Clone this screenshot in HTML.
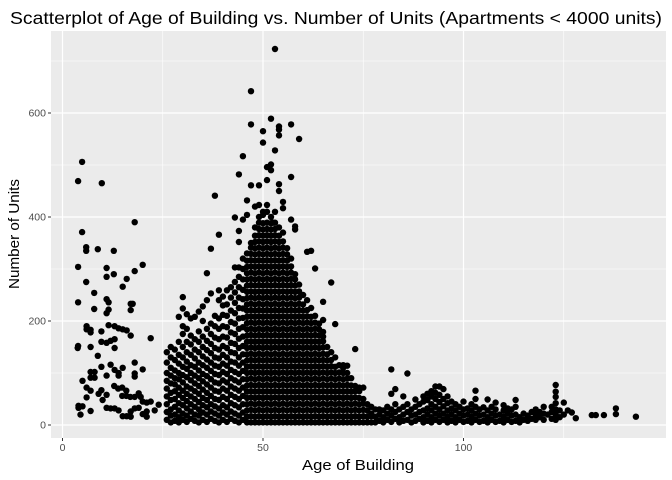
<!DOCTYPE html>
<html><head><meta charset="utf-8"><style>
body{margin:0;background:#fff;}
svg{display:block;font-family:"Liberation Sans",sans-serif;}
</style></head><body>
<svg id="chart" width="672" height="480" viewBox="0 0 672 480">
<text x="10" y="24" font-size="17.5" fill="#000" textLength="652" lengthAdjust="spacingAndGlyphs">Scatterplot of Age of Building vs. Number of Units (Apartments &lt; 4000 units)</text>
<rect x="51" y="31" width="615" height="407" fill="#ebebeb"/>
<g id="grid"></g>
<g id="pts"></g>
<g id="axes"></g>
<text x="302" y="470" font-size="14.5" textLength="112" lengthAdjust="spacingAndGlyphs">Age of Building</text>
<text transform="translate(19,289) rotate(-90)" font-size="14.5" textLength="110" lengthAdjust="spacingAndGlyphs">Number of Units</text>
</svg>
<script>
const xTicks=[0,50,100];
const xMinor=[25,75,125];
const yTicks=[0,200,400,600];
const yMinor=[100,300,500,700];
const sparseAges=[4.9,3.9,9.8,18,4.9,5.9,5.9,8.8,12.8,3.9,11,20,12.8,11,5.9,16,15,18,7.9,3.9,7.9,11,11.5,11.5,11,17,17.5,17,6,7,7,6,9.7,11.5,13,14,15,16,17,22,9.7,11,12,13,13,3.9,7,8.8,9.7,7,8,7,8,5,11,12,13,14,14,15,18,20,18,18,6,7,6,5,9.7,9,11,10,4,7,12.9,13.9,14.9,15.9,14.9,15.9,16.9,18,19,19.5,20,21,22,24,19,18,21,20,23,17,16,15,14,13,12,11,17,21,4,4.5,3.8];
const sparseUnits=[506,469,465,390,371,342,335,338,335,304,302,308,290,285,275,281,266,296,254,236,223,242,236,222,215,233,233,221,190,183,178,184,180,192,190,186,184,182,172,167,160,158,162,165,148,152,150,133,112,102,102,91,91,85,95,116,106,100,95,110,120,107,99,93,72,66,53,36,67,60,58,48,37,27,75,70,72,66,56,56,54,54,61,54,45,43,45,39,33,32,26,21,28,26,17,17,28,32,32,33,16,16,33,20,148];
const colAges=[26,27,28,29,30,31,32,33,34,35,36,37,38,39,40,41,42,43,44,45,46,47,48,49,50,51,52,52.5,53,54,55,56,57,58,59,60,61,62,63,64,65,66,67,68,69,70,71,72,73,74,75,76,77,78,79,80,81,82,83,84,85,86,87,88,89,90,91,92,93,94,95,96,97,98,99,100,101,102,103,104,105,106,107,108,109,110,111,112,113,114,115,116,117,118,119,120,121,122,123,124,125,126,127,128,132,133,135,138,143];
const colUnits=[
[10,25,40,55,70,85,100,120,140],
[5,18,30,48,62,80,95,110,130,150],
[8,20,35,50,65,78,90,105,125,145],
[5,15,28,42,58,72,88,100,118,135,160,208],
[10,22,38,52,66,82,96,112,130,150,175,190,224,246],
[6,18,32,46,60,74,92,108,122,140,160,185,213],
[12,26,40,55,70,86,100,115,135,155,172,205],
[8,20,35,50,65,80,95,112,128,145,165,208],
[5,18,30,44,60,75,90,105,120,140,160,180,218],
[10,24,38,52,68,84,98,115,132,150,170,200,228],
[6,20,34,48,62,78,94,110,126,144,162,185,240,292],
[12,26,40,56,72,88,104,120,138,156,175,195,253,339],
[8,22,36,50,66,82,98,114,130,148,168,190,210,441],
[5,18,32,48,64,80,96,112,128,145,165,185,205,240,259,366],
[10,24,38,54,70,86,102,118,135,152,170,190,212,230,247],
[6,20,34,50,66,82,98,114,130,148,168,188,210,232,259],
[12,26,42,58,74,90,106,122,140,158,178,198,220,245,265],
[8,22,38,54,70,86,102,120,138,156,175,195,215,235,255,275,303,399],
[5,18,34,50,66,82,98,114,130,148,166,185,205,225,245,265,285,303,352,373,482],
[10,24,40,56,72,88,104,120,136,152,170,188,206,224,242,260,280,300,320,395,517],
[5,16,28,40,52,64,76,88,100,112,124,136,148,160,172,184,196,208,220,232,244,256,268,280,292,304,316,330,404,432],
[5,17,29,41,53,65,77,89,101,113,125,137,149,161,173,185,197,209,221,233,245,257,269,281,293,305,317,329,341,350,461,578,642],
[5,16,28,40,52,64,76,88,100,112,124,136,148,160,172,184,196,208,220,232,244,256,268,280,292,304,316,328,340,352,364,380,420],
[5,17,29,41,53,65,77,89,101,113,125,137,149,161,173,185,197,209,221,233,245,257,269,281,293,305,317,329,341,353,365,377,389,400,423,461],
[5,16,28,40,52,64,76,88,100,112,124,136,148,160,172,184,196,208,220,232,244,256,268,280,292,304,316,328,340,352,364,376,388,404,410,543,565],
[5,17,29,41,53,65,77,89,101,113,125,137,149,161,173,185,197,209,221,233,245,257,269,281,293,305,317,329,341,353,365,377,389,410,423,471,496],
[5,16,28,40,52,64,76,88,100,112,124,136,148,160,172,184,196,208,220,232,244,256,268,280,292,304,316,328,340,352,364,376,388,400,490,501,589],
[389],
[5,17,29,41,53,65,77,89,101,113,125,137,149,161,173,185,197,209,221,233,245,257,269,281,293,305,317,329,341,353,365,377,389,410,528,723],
[5,16,28,40,52,64,76,88,100,112,124,136,148,160,172,184,196,208,220,232,244,256,268,280,292,304,316,328,340,352,364,380,450,463,557,568,574],
[5,17,29,41,53,65,77,89,101,113,125,137,149,161,173,185,197,209,221,233,245,257,269,281,293,305,317,329,341,353,370,417,429],
[5,16,28,40,52,64,76,88,100,112,124,136,148,160,172,184,196,208,220,232,244,256,268,280,292,304,316,328,340],
[5,17,29,41,53,65,77,89,101,113,125,137,149,161,173,185,197,209,221,233,245,257,269,281,293,305,320,395,477,578],
[5,16,28,40,52,64,76,88,100,112,124,136,148,160,172,184,196,208,220,232,244,256,268,280,290,376,382],
[5,17,29,41,53,65,77,89,101,113,125,137,149,161,173,185,197,209,221,233,245,257,270,550],
[5,16,28,40,52,64,76,88,100,112,124,136,148,160,172,184,196,208,220,232,250],
[5,17,29,41,53,65,77,89,101,113,125,137,149,161,173,185,197,209,221,240,333],
[5,16,28,40,52,64,76,88,100,112,124,136,148,160,172,184,196,208,225,335],
[5,17,29,41,53,65,77,89,101,113,125,137,149,161,173,185,197,210,301],
[5,16,28,40,52,64,76,88,100,112,124,136,148,160,172,184,195],
[5,17,29,41,53,65,77,89,101,113,125,137,149,161,170,179,202,237],
[5,16,28,40,52,64,76,88,100,112,124,136,150],
[5,17,29,41,53,65,77,89,101,113,125,140,274],
[5,16,28,40,52,64,76,88,100,112,130,194],
[5,17,29,41,53,65,77,89,101,115],
[5,16,28,40,52,64,76,88,100,110,115],
[5,17,29,41,53,65,77,89,100,114],
[5,16,28,40,52,64,76,90],
[5,17,29,41,53,65,75,146],
[5,16,28,40,52,65,72],
[5,17,29,41,50,72],
[5,16,28,40],
[5,17,22,35],
[5,16,30],
[8,20,30],
[5,15,28],
[10,22,35],
[6,18,30,60,107],
[12,25,40,69],
[5,15,30],
[8,20,35,55],
[10,25,40,99],
[5,18,30],
[8,20,35,49],
[12,25,40],
[5,15,28,45,55],
[8,20,32,48,60],
[5,15,28,40,55,65],
[10,22,35,50,62,74],
[6,18,30,44,58,74],
[10,22,36,50,69],
[5,16,28,42,55],
[8,20,32,45],
[5,15,28,40],
[10,22,35],
[6,18,30,45],
[8,20,32],
[5,16,28,40],
[10,22,35,50,66],
[6,18,30],
[8,20,34],
[5,15,28,49],
[10,22,35],
[6,18,30,43],
[8,20],
[5,16,28,38],
[10,22,32],
[6,18,30],
[8,20,35,48],
[5,15],
[10,22],
[8,18],
[12,25],
[10,20,30],
[15,25],
[10,22,35],
[20],
[12,25,35],
[10,20,30,42,54,64,77],
[15,28],
[20,43],
[28],
[24],
[13],
[19],
[19],
[19],
[21,32],
[16]
];
const NS='http://www.w3.org/2000/svg';
const X0=62.5, XS=4.01, Y0=425, YS=0.52, L=51, R=666, T=31, B=438;
function sx(a){return X0+a*XS;}
function sy(u){return Y0-u*YS;}
const grid=document.getElementById('grid'), pts=document.getElementById('pts'), axes=document.getElementById('axes');
function line(g,x1,y1,x2,y2,c,w){const l=document.createElementNS(NS,'line');l.setAttribute('x1',x1);l.setAttribute('y1',y1);l.setAttribute('x2',x2);l.setAttribute('y2',y2);l.setAttribute('stroke',c);l.setAttribute('stroke-width',w);g.appendChild(l);return l;}
xMinor.forEach(v=>{const l=line(grid,sx(v),T,sx(v),B,'#fff',0.6);

});
yMinor.forEach(v=>{const l=line(grid,L,sy(v),R,sy(v),'#fff',0.6);

});
xTicks.forEach(v=>{const l=line(grid,sx(v),T,sx(v),B,'#fff',1.2);


line(axes,sx(v),B,sx(v),B+3,'#333',1);
const t=document.createElementNS(NS,'text');t.setAttribute('x',sx(v));t.setAttribute('y',B+13);t.setAttribute('font-size','10.5');t.setAttribute('fill','#4d4d4d');t.setAttribute('text-anchor','middle');t.textContent=v;


axes.appendChild(t);});
yTicks.forEach(v=>{const l=line(grid,L,sy(v),R,sy(v),'#fff',1.2);


line(axes,L-3,sy(v),L,sy(v),'#333',1);
const t=document.createElementNS(NS,'text');t.setAttribute('x',L-5);t.setAttribute('y',sy(v)+3.7);t.setAttribute('font-size','10.5');t.setAttribute('fill','#4d4d4d');t.setAttribute('text-anchor','end');t.textContent=v;


axes.appendChild(t);});
function dot(a,u){const c=document.createElementNS(NS,'circle');c.setAttribute('cx',sx(a).toFixed(1));c.setAttribute('cy',sy(u).toFixed(1));c.setAttribute('r','3.2');c.setAttribute('fill','#000');


pts.appendChild(c);}
sparseAges.forEach((a,i)=>dot(a,sparseUnits[i]));
colAges.forEach((a,i)=>colUnits[i].forEach(u=>dot(a,u)));
</script>
</body></html>
